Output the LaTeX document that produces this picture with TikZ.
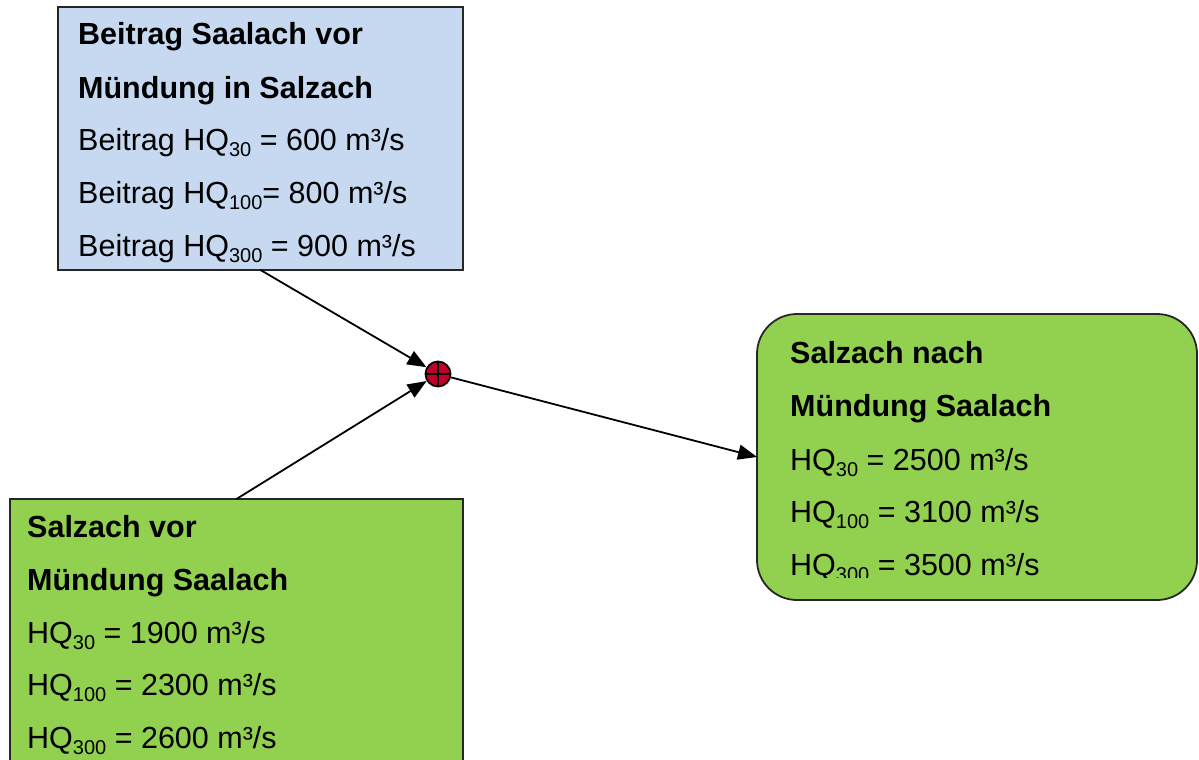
\documentclass[tikz,border=0pt]{standalone}
\usepackage{fontspec}
\setmainfont{Liberation Sans}
\usetikzlibrary{arrows.meta,calc}
\definecolor{boxblue}{RGB}{198,217,241}
\definecolor{boxgreen}{RGB}{146,208,80}
\definecolor{sumred}{RGB}{192,0,40}
\newcommand{\hqs}[1]{\raisebox{-0.2em}{\fontsize{20}{20}\selectfont #1}}
\begin{document}
\begin{tikzpicture}[x=1pt,y=-1pt,
  box/.style={draw=black!85, line width=1.8pt, anchor=north west, inner sep=0pt, outer sep=0pt},
  txt/.style={anchor=base west, inner sep=0pt, font=\fontsize{30.5}{36}\selectfont},
  hd/.style={anchor=base west, inner sep=0pt, font=\fontsize{30.5}{36}\selectfont\bfseries},
  conn/.style={line width=1.8pt, -{Triangle[length=19pt,width=15pt]}}]
\useasboundingbox (0,0) rectangle (1199,760);
% boxes
\node[box, fill=boxblue, minimum width=405pt, minimum height=263pt] (blue) at (58,7) {};
\node[box, fill=boxgreen, minimum width=453pt, minimum height=275pt] (before) at (10,499) {};
\node[box, fill=boxgreen, rounded corners=40pt, minimum width=440pt, minimum height=286pt] (after) at (757,314) {};
% sum node
\node[circle, draw, fill=sumred, minimum size=25pt, inner sep=0pt, line width=1.8pt] (sum) at (438,374) {};
\draw[line width=1.8pt] (sum.north) -- (sum.south) (sum.west) -- (sum.east);
% texts blue
\node[hd] (b1) at (78,45) {Beitrag Saalach vor};
\node[hd] (b2) at (78,98) {Mündung in Salzach};
\node[txt] (b3) at (78,150) {Beitrag HQ\hqs{30} = 600 m³/s};
\node[txt] (b4) at (78,203) {Beitrag HQ\hqs{100}= 800 m³/s};
\node[txt] (b5) at (78,256) {Beitrag HQ\hqs{300} = 900 m³/s};
% texts before
\node[hd] (v1) at (27,537) {Salzach vor};
\node[hd] (v2) at (27,590) {Mündung Saalach};
\node[txt] (v3) at (27,643) {HQ\hqs{30} = 1900 m³/s};
\node[txt] (v4) at (27,695) {HQ\hqs{100} = 2300 m³/s};
\node[txt] (v5) at (27,748) {HQ\hqs{300} = 2600 m³/s};
% texts after
\node[hd] (n1) at (790,363) {Salzach nach};
\node[hd] (n2) at (790,416) {Mündung Saalach};
\node[txt] (n3) at (790,470) {HQ\hqs{30} = 2500 m³/s};
\node[txt] (n4) at (790,522) {HQ\hqs{100} = 3100 m³/s};
\begin{scope}
\clip (757,314) rectangle (1199,577);
\node[txt] (n5) at (790,575) {HQ\hqs{300} = 3500 m³/s};
\end{scope}
% connectors
\draw[conn] (blue.south) -- (sum);
\draw[conn] (before.north) -- (sum);
\draw[conn] (sum) -- (after.west);
\end{tikzpicture}
\end{document}
